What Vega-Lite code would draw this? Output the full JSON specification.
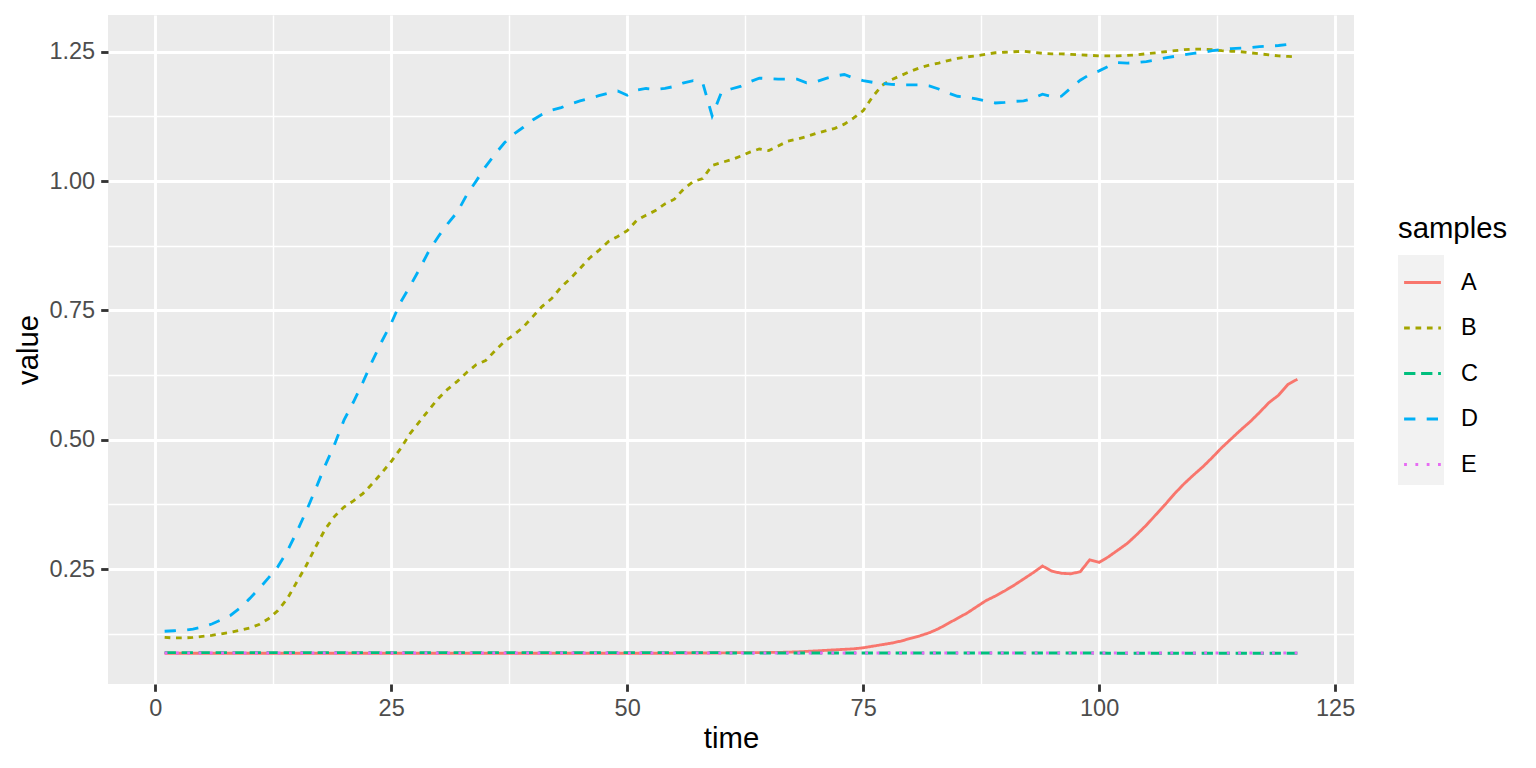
{
  "$schema": "https://vega.github.io/schema/vega-lite/v6.json",
  "width": 1246,
  "height": 669,
  "autosize": {"type": "none"},
  "padding": {"left": 108, "top": 15, "right": 182, "bottom": 84},
  "config": {
    "font": "Liberation Sans",
    "view": {"fill": "#EBEBEB", "stroke": null}
  },
  "datasets": {
    "keys": [{"k": "key1"}, {"k": "key2"}, {"k": "key3"}, {"k": "key4"}, {"k": "key5"}],
    "wide": [
      {"time": 1, "A": 0.0875, "B": 0.118, "C": 0.0885, "D": 0.130, "E": 0.088},
      {"time": 2, "A": 0.0875, "B": 0.117, "C": 0.0885, "D": 0.131, "E": 0.088},
      {"time": 3, "A": 0.0875, "B": 0.117, "C": 0.0885, "D": 0.132, "E": 0.088},
      {"time": 4, "A": 0.0875, "B": 0.118, "C": 0.0885, "D": 0.134, "E": 0.088},
      {"time": 5, "A": 0.0875, "B": 0.120, "C": 0.0885, "D": 0.138, "E": 0.088},
      {"time": 6, "A": 0.0875, "B": 0.122, "C": 0.0885, "D": 0.144, "E": 0.088},
      {"time": 7, "A": 0.0875, "B": 0.125, "C": 0.0885, "D": 0.152, "E": 0.088},
      {"time": 8, "A": 0.0875, "B": 0.128, "C": 0.0885, "D": 0.161, "E": 0.088},
      {"time": 9, "A": 0.0875, "B": 0.132, "C": 0.0885, "D": 0.175, "E": 0.088},
      {"time": 10, "A": 0.0875, "B": 0.136, "C": 0.0885, "D": 0.193, "E": 0.088},
      {"time": 11, "A": 0.0875, "B": 0.143, "C": 0.0885, "D": 0.212, "E": 0.088},
      {"time": 12, "A": 0.0875, "B": 0.154, "C": 0.0885, "D": 0.233, "E": 0.088},
      {"time": 13, "A": 0.0875, "B": 0.170, "C": 0.0885, "D": 0.255, "E": 0.088},
      {"time": 14, "A": 0.0875, "B": 0.193, "C": 0.0885, "D": 0.285, "E": 0.088},
      {"time": 15, "A": 0.0875, "B": 0.225, "C": 0.0885, "D": 0.322, "E": 0.088},
      {"time": 16, "A": 0.0875, "B": 0.257, "C": 0.0885, "D": 0.362, "E": 0.088},
      {"time": 17, "A": 0.0875, "B": 0.293, "C": 0.0885, "D": 0.405, "E": 0.088},
      {"time": 18, "A": 0.0875, "B": 0.327, "C": 0.0885, "D": 0.450, "E": 0.088},
      {"time": 19, "A": 0.0875, "B": 0.352, "C": 0.0885, "D": 0.491, "E": 0.088},
      {"time": 20, "A": 0.0875, "B": 0.370, "C": 0.0885, "D": 0.538, "E": 0.088},
      {"time": 21, "A": 0.0875, "B": 0.382, "C": 0.0885, "D": 0.573, "E": 0.088},
      {"time": 22, "A": 0.0875, "B": 0.396, "C": 0.0885, "D": 0.611, "E": 0.088},
      {"time": 23, "A": 0.0875, "B": 0.415, "C": 0.0885, "D": 0.652, "E": 0.088},
      {"time": 24, "A": 0.0875, "B": 0.436, "C": 0.0885, "D": 0.690, "E": 0.088},
      {"time": 25, "A": 0.0875, "B": 0.458, "C": 0.0885, "D": 0.725, "E": 0.088},
      {"time": 26, "A": 0.0875, "B": 0.483, "C": 0.0885, "D": 0.766, "E": 0.088},
      {"time": 27, "A": 0.0875, "B": 0.512, "C": 0.0885, "D": 0.797, "E": 0.088},
      {"time": 28, "A": 0.0875, "B": 0.535, "C": 0.0885, "D": 0.830, "E": 0.088},
      {"time": 29, "A": 0.0875, "B": 0.558, "C": 0.0885, "D": 0.865, "E": 0.088},
      {"time": 30, "A": 0.0875, "B": 0.580, "C": 0.0885, "D": 0.893, "E": 0.088},
      {"time": 31, "A": 0.0875, "B": 0.598, "C": 0.0885, "D": 0.918, "E": 0.088},
      {"time": 32, "A": 0.0875, "B": 0.613, "C": 0.0885, "D": 0.940, "E": 0.088},
      {"time": 33, "A": 0.0875, "B": 0.630, "C": 0.0885, "D": 0.973, "E": 0.088},
      {"time": 34, "A": 0.0875, "B": 0.645, "C": 0.0885, "D": 1.000, "E": 0.088},
      {"time": 35, "A": 0.0875, "B": 0.653, "C": 0.0885, "D": 1.028, "E": 0.088},
      {"time": 36, "A": 0.0875, "B": 0.672, "C": 0.0885, "D": 1.052, "E": 0.088},
      {"time": 37, "A": 0.0875, "B": 0.690, "C": 0.0885, "D": 1.074, "E": 0.088},
      {"time": 38, "A": 0.0875, "B": 0.703, "C": 0.0885, "D": 1.091, "E": 0.088},
      {"time": 39, "A": 0.0875, "B": 0.718, "C": 0.0885, "D": 1.104, "E": 0.088},
      {"time": 40, "A": 0.0875, "B": 0.738, "C": 0.0885, "D": 1.118, "E": 0.088},
      {"time": 41, "A": 0.0875, "B": 0.758, "C": 0.0885, "D": 1.129, "E": 0.088},
      {"time": 42, "A": 0.0875, "B": 0.773, "C": 0.0885, "D": 1.137, "E": 0.088},
      {"time": 43, "A": 0.0875, "B": 0.795, "C": 0.0885, "D": 1.142, "E": 0.088},
      {"time": 44, "A": 0.0875, "B": 0.812, "C": 0.0885, "D": 1.149, "E": 0.088},
      {"time": 45, "A": 0.0875, "B": 0.831, "C": 0.0885, "D": 1.155, "E": 0.088},
      {"time": 46, "A": 0.0875, "B": 0.851, "C": 0.0885, "D": 1.160, "E": 0.088},
      {"time": 47, "A": 0.0875, "B": 0.866, "C": 0.0885, "D": 1.165, "E": 0.088},
      {"time": 48, "A": 0.0875, "B": 0.883, "C": 0.0885, "D": 1.170, "E": 0.088},
      {"time": 49, "A": 0.0875, "B": 0.893, "C": 0.0885, "D": 1.174, "E": 0.088},
      {"time": 50, "A": 0.0875, "B": 0.904, "C": 0.0885, "D": 1.166, "E": 0.088},
      {"time": 51, "A": 0.0875, "B": 0.924, "C": 0.0885, "D": 1.176, "E": 0.088},
      {"time": 52, "A": 0.0875, "B": 0.934, "C": 0.0885, "D": 1.179, "E": 0.088},
      {"time": 53, "A": 0.0875, "B": 0.943, "C": 0.0885, "D": 1.177, "E": 0.088},
      {"time": 54, "A": 0.0875, "B": 0.956, "C": 0.0885, "D": 1.179, "E": 0.088},
      {"time": 55, "A": 0.0875, "B": 0.965, "C": 0.0885, "D": 1.183, "E": 0.088},
      {"time": 56, "A": 0.088, "B": 0.985, "C": 0.0885, "D": 1.190, "E": 0.088},
      {"time": 57, "A": 0.088, "B": 0.999, "C": 0.0885, "D": 1.194, "E": 0.088},
      {"time": 58, "A": 0.088, "B": 1.005, "C": 0.0885, "D": 1.190, "E": 0.088},
      {"time": 59, "A": 0.088, "B": 1.030, "C": 0.0885, "D": 1.126, "E": 0.088},
      {"time": 60, "A": 0.088, "B": 1.036, "C": 0.0885, "D": 1.172, "E": 0.088},
      {"time": 61, "A": 0.0885, "B": 1.041, "C": 0.088, "D": 1.178, "E": 0.088},
      {"time": 62, "A": 0.0885, "B": 1.048, "C": 0.088, "D": 1.183, "E": 0.088},
      {"time": 63, "A": 0.0885, "B": 1.056, "C": 0.088, "D": 1.192, "E": 0.088},
      {"time": 64, "A": 0.0885, "B": 1.062, "C": 0.088, "D": 1.199, "E": 0.088},
      {"time": 65, "A": 0.089, "B": 1.059, "C": 0.088, "D": 1.198, "E": 0.088},
      {"time": 66, "A": 0.089, "B": 1.068, "C": 0.088, "D": 1.197, "E": 0.088},
      {"time": 67, "A": 0.0895, "B": 1.077, "C": 0.088, "D": 1.197, "E": 0.088},
      {"time": 68, "A": 0.090, "B": 1.081, "C": 0.088, "D": 1.197, "E": 0.088},
      {"time": 69, "A": 0.091, "B": 1.086, "C": 0.088, "D": 1.190, "E": 0.088},
      {"time": 70, "A": 0.092, "B": 1.092, "C": 0.088, "D": 1.192, "E": 0.088},
      {"time": 71, "A": 0.093, "B": 1.097, "C": 0.088, "D": 1.198, "E": 0.088},
      {"time": 72, "A": 0.094, "B": 1.102, "C": 0.088, "D": 1.203, "E": 0.088},
      {"time": 73, "A": 0.095, "B": 1.110, "C": 0.088, "D": 1.206, "E": 0.088},
      {"time": 74, "A": 0.096, "B": 1.122, "C": 0.088, "D": 1.199, "E": 0.088},
      {"time": 75, "A": 0.098, "B": 1.136, "C": 0.088, "D": 1.194, "E": 0.088},
      {"time": 76, "A": 0.101, "B": 1.163, "C": 0.088, "D": 1.191, "E": 0.088},
      {"time": 77, "A": 0.104, "B": 1.185, "C": 0.088, "D": 1.189, "E": 0.088},
      {"time": 78, "A": 0.107, "B": 1.196, "C": 0.088, "D": 1.187, "E": 0.088},
      {"time": 79, "A": 0.111, "B": 1.204, "C": 0.088, "D": 1.186, "E": 0.088},
      {"time": 80, "A": 0.116, "B": 1.212, "C": 0.088, "D": 1.186, "E": 0.088},
      {"time": 81, "A": 0.121, "B": 1.219, "C": 0.088, "D": 1.186, "E": 0.088},
      {"time": 82, "A": 0.127, "B": 1.224, "C": 0.088, "D": 1.184, "E": 0.088},
      {"time": 83, "A": 0.135, "B": 1.228, "C": 0.088, "D": 1.178, "E": 0.088},
      {"time": 84, "A": 0.145, "B": 1.233, "C": 0.088, "D": 1.170, "E": 0.088},
      {"time": 85, "A": 0.155, "B": 1.237, "C": 0.088, "D": 1.164, "E": 0.088},
      {"time": 86, "A": 0.165, "B": 1.240, "C": 0.088, "D": 1.162, "E": 0.088},
      {"time": 87, "A": 0.177, "B": 1.242, "C": 0.088, "D": 1.159, "E": 0.088},
      {"time": 88, "A": 0.189, "B": 1.245, "C": 0.088, "D": 1.155, "E": 0.088},
      {"time": 89, "A": 0.198, "B": 1.248, "C": 0.088, "D": 1.151, "E": 0.088},
      {"time": 90, "A": 0.208, "B": 1.249, "C": 0.088, "D": 1.152, "E": 0.088},
      {"time": 91, "A": 0.219, "B": 1.250, "C": 0.088, "D": 1.154, "E": 0.088},
      {"time": 92, "A": 0.231, "B": 1.251, "C": 0.088, "D": 1.155, "E": 0.088},
      {"time": 93, "A": 0.243, "B": 1.249, "C": 0.088, "D": 1.160, "E": 0.088},
      {"time": 94, "A": 0.256, "B": 1.247, "C": 0.088, "D": 1.168, "E": 0.088},
      {"time": 95, "A": 0.246, "B": 1.246, "C": 0.088, "D": 1.163, "E": 0.088},
      {"time": 96, "A": 0.242, "B": 1.246, "C": 0.088, "D": 1.164, "E": 0.088},
      {"time": 97, "A": 0.241, "B": 1.245, "C": 0.088, "D": 1.180, "E": 0.088},
      {"time": 98, "A": 0.245, "B": 1.244, "C": 0.088, "D": 1.195, "E": 0.088},
      {"time": 99, "A": 0.268, "B": 1.243, "C": 0.088, "D": 1.206, "E": 0.088},
      {"time": 100, "A": 0.263, "B": 1.242, "C": 0.088, "D": 1.213, "E": 0.088},
      {"time": 101, "A": 0.274, "B": 1.242, "C": 0.0875, "D": 1.222, "E": 0.088},
      {"time": 102, "A": 0.287, "B": 1.242, "C": 0.0875, "D": 1.229, "E": 0.088},
      {"time": 103, "A": 0.300, "B": 1.243, "C": 0.0875, "D": 1.228, "E": 0.088},
      {"time": 104, "A": 0.317, "B": 1.244, "C": 0.0875, "D": 1.229, "E": 0.088},
      {"time": 105, "A": 0.335, "B": 1.246, "C": 0.0875, "D": 1.231, "E": 0.088},
      {"time": 106, "A": 0.355, "B": 1.248, "C": 0.0875, "D": 1.234, "E": 0.088},
      {"time": 107, "A": 0.375, "B": 1.250, "C": 0.0875, "D": 1.238, "E": 0.088},
      {"time": 108, "A": 0.396, "B": 1.252, "C": 0.0875, "D": 1.241, "E": 0.088},
      {"time": 109, "A": 0.415, "B": 1.254, "C": 0.0875, "D": 1.244, "E": 0.088},
      {"time": 110, "A": 0.432, "B": 1.255, "C": 0.0875, "D": 1.247, "E": 0.088},
      {"time": 111, "A": 0.448, "B": 1.255, "C": 0.0875, "D": 1.249, "E": 0.088},
      {"time": 112, "A": 0.466, "B": 1.254, "C": 0.0875, "D": 1.252, "E": 0.088},
      {"time": 113, "A": 0.485, "B": 1.252, "C": 0.0875, "D": 1.254, "E": 0.088},
      {"time": 114, "A": 0.502, "B": 1.251, "C": 0.0875, "D": 1.256, "E": 0.088},
      {"time": 115, "A": 0.519, "B": 1.250, "C": 0.0875, "D": 1.257, "E": 0.088},
      {"time": 116, "A": 0.535, "B": 1.248, "C": 0.0875, "D": 1.258, "E": 0.088},
      {"time": 117, "A": 0.553, "B": 1.246, "C": 0.0875, "D": 1.260, "E": 0.088},
      {"time": 118, "A": 0.572, "B": 1.244, "C": 0.0875, "D": 1.261, "E": 0.088},
      {"time": 119, "A": 0.586, "B": 1.242, "C": 0.0875, "D": 1.262, "E": 0.088},
      {"time": 120, "A": 0.607, "B": 1.241, "C": 0.0875, "D": 1.264, "E": 0.088},
      {"time": 121, "A": 0.617, "B": 1.240, "C": 0.0875, "D": 1.265, "E": 0.088}
    ]
  },
  "layer": [
    {
      "data": {"name": "keys"},
      "mark": {"type": "point", "filled": true, "color": "#F2F2F2", "opacity": 0},
      "encoding": {
        "shape": {
          "field": "k",
          "type": "nominal",
          "scale": {"domain": ["key1", "key2", "key3", "key4", "key5"], "range": ["square"]},
          "legend": {
            "orient": "none",
            "legendX": 1290,
            "legendY": 240,
            "padding": 0,
            "title": null,
            "symbolSize": 2116,
            "symbolFillColor": "#F2F2F2",
            "symbolStrokeWidth": 0,
            "symbolOpacity": 1,
            "labelExpr": "''",
            "labelFontSize": 10,
            "labelOffset": 0,
            "rowPadding": 0
          }
        }
      }
    },
    {
      "data": {"name": "wide"},
      "transform": [{"fold": ["A", "B", "C", "D", "E"], "as": ["samples", "value"]}],
      "mark": {"type": "line", "strokeWidth": 2.84, "clip": true},
      "encoding": {
        "x": {
          "field": "time",
          "type": "quantitative",
          "scale": {"domain": [-5, 127], "nice": false, "zero": false},
          "axis": {
            "title": "time",
            "values": [0, 12.5, 25, 37.5, 50, 62.5, 75, 87.5, 100, 112.5, 125],
            "labelExpr": "datum.value % 25 === 0 ? datum.label : ''",
            "labelOverlap": false,
            "labelFlush": false,
            "labelFontSize": 23.5,
            "labelColor": "#4D4D4D",
            "labelPadding": 4.7,
            "domain": false,
            "tickSize": 7.3,
            "tickColor": "#333333",
            "tickWidth": 2.84,
            "tickOpacity": {"condition": {"test": "datum.value % 25 === 0", "value": 1}, "value": 0},
            "grid": true,
            "gridColor": "#FFFFFF",
            "gridWidth": {"condition": {"test": "datum.value % 25 === 0", "value": 2.84}, "value": 1.42},
            "titleFontSize": 29.3,
            "titleFontWeight": "normal",
            "titleColor": "#000000",
            "titlePadding": 4.5
          }
        },
        "y": {
          "field": "value",
          "type": "quantitative",
          "scale": {"domain": [0.028, 1.321], "nice": false, "zero": false},
          "axis": {
            "title": "value",
            "values": [0.125, 0.25, 0.375, 0.5, 0.625, 0.75, 0.875, 1.0, 1.125, 1.25],
            "format": ".2f",
            "labelExpr": "abs(datum.value * 4 - round(datum.value * 4)) < 0.001 ? datum.label : ''",
            "labelOverlap": false,
            "labelFlush": false,
            "labelFontSize": 23.5,
            "labelColor": "#4D4D4D",
            "labelPadding": 6,
            "domain": false,
            "tickSize": 7.3,
            "tickColor": "#333333",
            "tickWidth": 2.84,
            "tickOpacity": {"condition": {"test": "abs(datum.value * 4 - round(datum.value * 4)) < 0.001", "value": 1}, "value": 0},
            "grid": true,
            "gridColor": "#FFFFFF",
            "gridWidth": {"condition": {"test": "abs(datum.value * 4 - round(datum.value * 4)) < 0.001", "value": 2.84}, "value": 1.42},
            "titleFontSize": 29.3,
            "titleFontWeight": "normal",
            "titleColor": "#000000",
            "titlePadding": 5
          }
        },
        "color": {
          "field": "samples",
          "type": "nominal",
          "scale": {
            "domain": ["A", "B", "C", "D", "E"],
            "range": ["#F8766D", "#A3A500", "#00BF7D", "#00B0F6", "#E76BF3"]
          },
          "legend": {
            "orient": "none",
            "legendX": 1290,
            "legendY": 200,
            "padding": 0,
            "title": "samples",
            "titleColor": "#000000",
            "titleFontSize": 29.3,
            "titleFontWeight": "normal",
            "titlePadding": 13.7,
            "symbolType": "M-0.8,0L0.8,0",
            "symbolSize": 2116,
            "symbolStrokeWidth": 2.84,
            "symbolFillColor": "transparent",
            "labelColor": "#000000",
            "labelFontSize": 23.5,
            "labelOffset": 14,
            "rowPadding": 9.5
          }
        },
        "strokeDash": {
          "field": "samples",
          "type": "nominal",
          "scale": {
            "domain": ["A", "B", "C", "D", "E"],
            "range": [[1, 0], [5.7, 5.7], [11.3, 5.7], [11.3, 11.3], [2.8, 8.5]]
          },
          "legend": {
            "orient": "none",
            "legendX": 1290,
            "legendY": 200,
            "padding": 0,
            "title": "samples",
            "titleColor": "#000000",
            "titleFontSize": 29.3,
            "titleFontWeight": "normal",
            "titlePadding": 13.7,
            "symbolType": "M-0.8,0L0.8,0",
            "symbolSize": 2116,
            "symbolStrokeWidth": 2.84,
            "symbolFillColor": "transparent",
            "labelColor": "#000000",
            "labelFontSize": 23.5,
            "labelOffset": 14,
            "rowPadding": 9.5
          }
        }
      }
    }
  ]
}
